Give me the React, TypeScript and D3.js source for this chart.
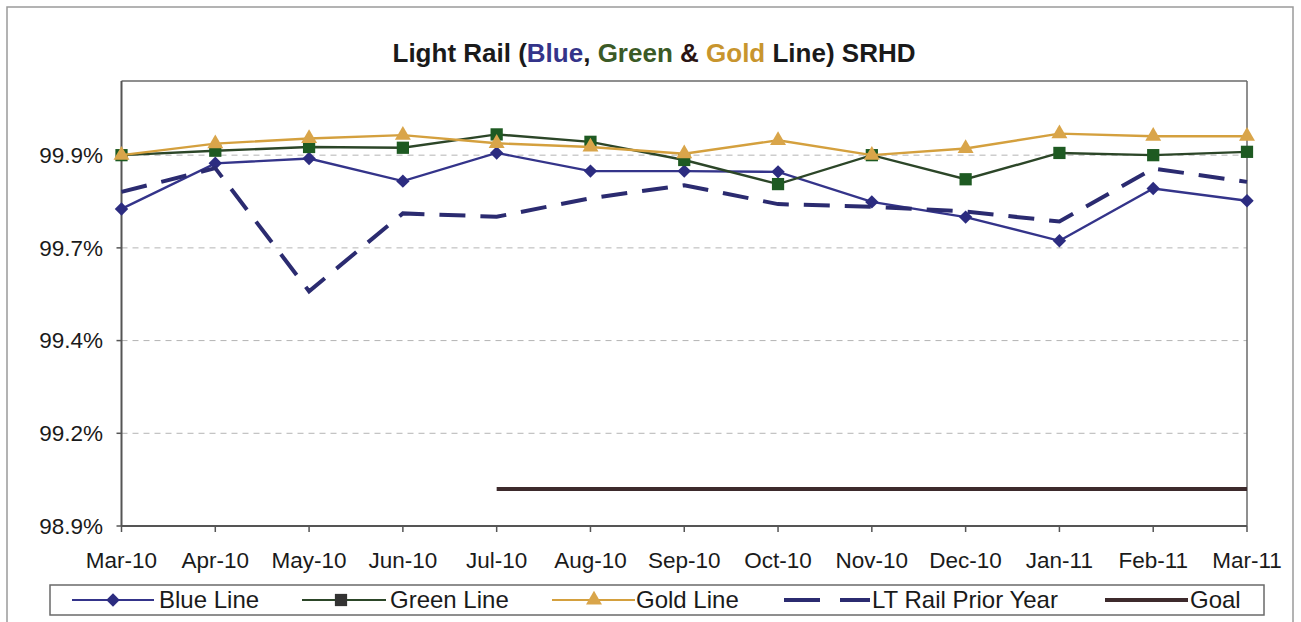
import React from "react";
import * as d3 from "d3";

// months on the category axis
const months = [
  "Mar-10", "Apr-10", "May-10", "Jun-10", "Jul-10", "Aug-10", "Sep-10",
  "Oct-10", "Nov-10", "Dec-10", "Jan-11", "Feb-11", "Mar-11",
];

// values in percent
const blueLine = [99.755, 99.878, 99.891, 99.83, 99.906, 99.857, 99.857, 99.855, 99.774, 99.733, 99.669, 99.81, 99.777];
const greenLine = [99.9, 99.912, 99.922, 99.92, 99.956, 99.936, 99.887, 99.822, 99.9, 99.835, 99.906, 99.9, 99.909];
const goldLine = [99.9, 99.931, 99.945, 99.954, 99.932, 99.922, 99.904, 99.94, 99.9, 99.918, 99.958, 99.951, 99.951];
const priorYear = [99.801, 99.865, 99.533, 99.743, 99.734, 99.784, 99.819, 99.768, 99.761, 99.748, 99.721, 99.864, 99.828];
const goal: (number | null)[] = [null, null, null, null, 99.0, 99.0, 99.0, 99.0, 99.0, 99.0, 99.0, 99.0, 99.0];

const yTicks = [98.9, 99.15, 99.4, 99.65, 99.9];
const yTickLabels = ["98.9%", "99.2%", "99.4%", "99.7%", "99.9%"];
const yDomain = [98.9, 100.1];

const W = 1301;
const H = 622;
const left = 121.5;
const right = 1247;
const top = 81;
const bottom = 526;

const font = "'Liberation Sans', Arial, sans-serif";

const COL = {
  blue: "#34348a",
  blueMark: "#2c2c80",
  green: "#2c4628",
  greenMark: "#1e5a22",
  gold: "#d4a03e",
  goldMark: "#d9a54a",
  prior: "#2b2b70",
  goal: "#3d2a2c",
};

export default function App() {
  const x = d3.scalePoint<string>().domain(months).range([left, right]).padding(0);
  const y = d3.scaleLinear().domain(yDomain).range([bottom, top]);

  const line = d3
    .line<number | null>()
    .defined((d) => d != null)
    .x((_, i) => x(months[i]) as number)
    .y((d) => y(d as number));

  const diamondType = (d3 as any).symbolDiamond2 ?? d3.symbolDiamond;
  const diamond = d3.symbol(diamondType, 115)()!;
  const square = d3.symbol(d3.symbolSquare, 150)()!;
  const triangle = d3.symbol(d3.symbolTriangle, 110)()!;

  const legY = 600;

  return (
    <svg
      width={W}
      height={H}
      style={{ position: "absolute", left: 0, top: 0, background: "#fff" }}
      fontFamily={font}
    >
      <rect x={7} y={7} width={1286} height={630} fill="none" stroke="#9a9a9a" strokeWidth={1.5} />

      {/* title */}
      <text x={654} y={62} textAnchor="middle" fontSize={26} fontWeight="bold" fill="#1a1a1a">
        <tspan>Light Rail (</tspan>
        <tspan fill="#34348a">Blue</tspan>
        <tspan>, </tspan>
        <tspan fill="#3b5a26">Green</tspan>
        <tspan fill="#2a1414"> &amp; </tspan>
        <tspan fill="#c8952e">Gold</tspan>
        <tspan> Line) SRHD</tspan>
      </text>

      {/* grid */}
      {yTicks.map((t) => (
        <line
          key={t}
          x1={left}
          x2={right}
          y1={y(t)}
          y2={y(t)}
          stroke="#b4b4b4"
          strokeWidth={1}
          strokeDasharray="6,5"
        />
      ))}

      {/* plot frame */}
      <line x1={left} x2={right} y1={top} y2={top} stroke="#6a6a6a" strokeWidth={1.5} />
      <line x1={right} x2={right} y1={top} y2={bottom} stroke="#6a6a6a" strokeWidth={1.5} />
      <line x1={left} x2={left} y1={top} y2={bottom} stroke="#555" strokeWidth={2} />
      <line x1={left} x2={right} y1={bottom} y2={bottom} stroke="#555" strokeWidth={2} />

      {/* y axis */}
      {yTicks.map((t, i) => (
        <g key={t}>
          <line x1={left - 5} x2={left} y1={y(t)} y2={y(t)} stroke="#555" strokeWidth={1.5} />
          <text x={103} y={y(t)} dy="0.35em" textAnchor="end" fontSize={22.5} fill="#1a1a1a">
            {yTickLabels[i]}
          </text>
        </g>
      ))}

      {/* x axis */}
      {months.map((m) => (
        <g key={m}>
          <line x1={x(m)} x2={x(m)} y1={bottom} y2={bottom + 6} stroke="#555" strokeWidth={1.5} />
          <text x={x(m)} y={568} textAnchor="middle" fontSize={22.5} fill="#1a1a1a">
            {m}
          </text>
        </g>
      ))}

      {/* series */}
      <path d={line(blueLine) || ""} fill="none" stroke={COL.blue} strokeWidth={2.4} />
      {blueLine.map((v, i) => (
        <path key={"b" + i} d={diamond} transform={`translate(${x(months[i])},${y(v)})`} fill={COL.blueMark} />
      ))}

      <path d={line(greenLine) || ""} fill="none" stroke={COL.green} strokeWidth={2.4} />
      {greenLine.map((v, i) => (
        <path key={"g" + i} d={square} transform={`translate(${x(months[i])},${y(v)})`} fill={COL.greenMark} />
      ))}

      <path d={line(goldLine) || ""} fill="none" stroke={COL.gold} strokeWidth={2.4} />
      {goldLine.map((v, i) => (
        <path key={"o" + i} d={triangle} transform={`translate(${x(months[i])},${y(v)})`} fill={COL.goldMark} />
      ))}

      <path
        d={line(priorYear) || ""}
        fill="none"
        stroke={COL.prior}
        strokeWidth={4}
        strokeDasharray="26,15"
      />

      <path d={line(goal) || ""} fill="none" stroke={COL.goal} strokeWidth={4} />

      {/* legend */}
      <rect x={50} y={585} width={1214} height={30} fill="#fff" stroke="#6a6a6a" strokeWidth={1.5} />
      <g fontSize={24} fill="#1a1a1a">
        <line x1={72} x2={154} y1={legY} y2={legY} stroke={COL.blue} strokeWidth={2} />
        <path d={diamond} transform={`translate(113,${legY})`} fill={COL.blueMark} />
        <text x={159} y={608}>Blue Line</text>

        <line x1={302} x2={386} y1={legY} y2={legY} stroke={COL.green} strokeWidth={2} />
        <path d={square} transform={`translate(341,${legY})`} fill="#333" />
        <text x={390} y={608}>Green Line</text>

        <line x1={552} x2={635} y1={legY} y2={legY} stroke={COL.gold} strokeWidth={2} />
        <path d={triangle} transform={`translate(594,${legY})`} fill={COL.goldMark} />
        <text x={636} y={608}>Gold Line</text>

        <line x1={784} x2={870} y1={legY} y2={legY} stroke={COL.prior} strokeWidth={4} strokeDasharray="36,20" />
        <text x={872} y={608}>LT Rail Prior Year</text>

        <line x1={1105} x2={1188} y1={legY} y2={legY} stroke={COL.goal} strokeWidth={4} />
        <text x={1190} y={608}>Goal</text>
      </g>
    </svg>
  );
}
